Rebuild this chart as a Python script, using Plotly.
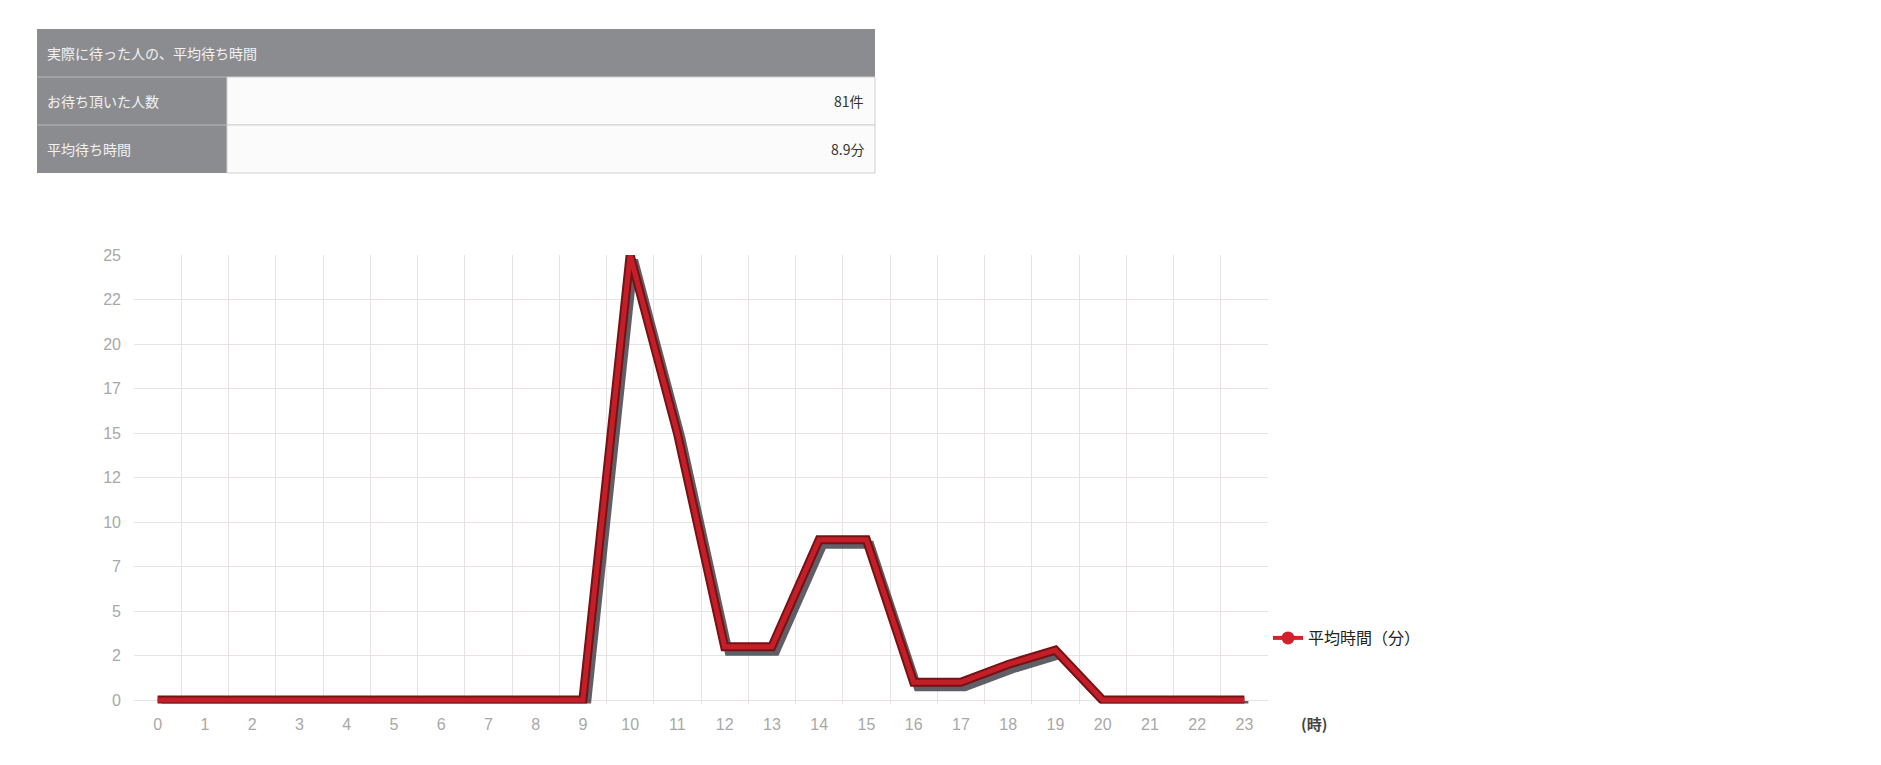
import plotly.graph_objects as go

# ---- data ----
hours = list(range(24))
avg_wait = [0, 0, 0, 0, 0, 0, 0, 0, 0, 0, 25, 15, 3, 3, 9, 9, 1, 1, 2, 2.8, 0, 0, 0, 0]
y_tickvals = [0, 2.5, 5, 7.5, 10, 12.5, 15, 17.5, 20, 22.5, 25]
y_ticktext = ["0", "2", "5", "7", "10", "12", "15", "17", "20", "22", "25"]
x_ticktext = [str(h) for h in hours]
series_name = "平均時間（分）"
x_unit = "(時)"

table_title = "実際に待った人の、平均待ち時間"
table_labels = ["お待ち頂いた人数", "平均待ち時間"]
table_values = ["81件", "8.9分"]

# ---- layout geometry (pixels) ----
W, H = 1881, 765
PL, PR, PT, PB = 134, 1268, 255, 703.6
YR = [-0.2, 25]
XR = [-0.5, 23.5]
px_x = (PR - PL) / (XR[1] - XR[0])
px_y = (PB - PT) / (YR[1] - YR[0])
shadow_dx, shadow_dy = 4 / px_x, -5 / px_y


def fx(px):
    return px / W


def fy(py):
    return 1 - py / H


fig = go.Figure()

# shadow
fig.add_trace(go.Scatter(
    x=[h + shadow_dx for h in hours], y=[v + shadow_dy for v in avg_wait],
    mode="lines", line=dict(color="rgba(55,55,65,0.8)", width=8),
    showlegend=False, hoverinfo="skip", cliponaxis=False))
# dark outline
fig.add_trace(go.Scatter(
    x=hours, y=avg_wait, mode="lines",
    line=dict(color="#761214", width=9),
    showlegend=False, hoverinfo="skip", cliponaxis=False))
# red core
fig.add_trace(go.Scatter(
    x=hours, y=avg_wait, mode="lines",
    line=dict(color="#c41f29", width=5),
    showlegend=False, name=series_name, cliponaxis=False))
# legend entry
fig.add_trace(go.Scatter(
    x=[None], y=[None], mode="lines+markers", name=series_name,
    line=dict(color="#d3222b", width=4),
    marker=dict(color="#d3222b", size=13, symbol="circle")))

# ---- summary table built from shapes and annotations ----
TL, TR, TS = 37, 875, 227   # left, right, column split
TT, ROW = 29, 48
GRAY = "#8b8c90"
shapes = []
annotations = []
shapes.append(dict(type="rect", xref="paper", yref="paper",
                   x0=fx(TL), x1=fx(TR), y0=fy(TT + ROW), y1=fy(TT),
                   fillcolor=GRAY, line=dict(width=0), layer="below"))
annotations.append(dict(text=table_title, xref="paper", yref="paper",
                        x=fx(TL + 8), y=fy(TT + ROW / 2), xanchor="left", yanchor="middle",
                        showarrow=False,
                        font=dict(family="Noto Sans CJK JP", size=14, color="#f2f2f2")))
for i, (lab, val) in enumerate(zip(table_labels, table_values)):
    top = TT + ROW * (i + 1)
    bot = top + ROW
    shapes.append(dict(type="rect", xref="paper", yref="paper",
                       x0=fx(TL), x1=fx(TS), y0=fy(bot), y1=fy(top),
                       fillcolor=GRAY, line=dict(width=0), layer="below"))
    shapes.append(dict(type="rect", xref="paper", yref="paper",
                       x0=fx(TS), x1=fx(TR), y0=fy(bot), y1=fy(top),
                       fillcolor="#fbfbfb", line=dict(color="#cfcfcf", width=1), layer="below"))
    shapes.append(dict(type="line", xref="paper", yref="paper",
                       x0=fx(TL), x1=fx(TS), y0=fy(top), y1=fy(top),
                       line=dict(color="#b9b9bc", width=1)))
    annotations.append(dict(text=lab, xref="paper", yref="paper",
                            x=fx(TL + 8), y=fy(top + ROW / 2), xanchor="left", yanchor="middle",
                            showarrow=False,
                            font=dict(family="Noto Sans CJK JP", size=14, color="#f2f2f2")))
    annotations.append(dict(text=val, xref="paper", yref="paper",
                            x=fx(TR - 9), y=fy(top + ROW / 2), xanchor="right", yanchor="middle",
                            showarrow=False,
                            font=dict(family="Noto Sans CJK JP", size=14, color="#333333")))

annotations.append(dict(
    text=x_unit, xref="paper", yref="paper",
    x=fx(1314), y=fy(723), xanchor="center", yanchor="middle",
    showarrow=False,
    font=dict(family="Noto Sans CJK JP", size=15, color="#444444", weight="bold")))

tick_font = dict(family="Liberation Sans Narrow, Liberation Sans, Arial", size=16, color="#a8a8a8")

fig.update_layout(
    width=W, height=H,
    margin=dict(l=0, r=0, t=0, b=0, autoexpand=False),
    paper_bgcolor="white", plot_bgcolor="white",
    xaxis=dict(
        domain=[fx(PL), fx(PR)], range=XR, automargin=False,
        tickmode="array", tickvals=hours, ticktext=x_ticktext,
        showgrid=False, zeroline=False, showline=False,
        ticks="", ticklabelstandoff=9, tickfont=tick_font,
        minor=dict(tick0=0.5, dtick=1, showgrid=True, gridcolor="#e7e3e3", gridwidth=1, ticks=""),
        fixedrange=True),
    yaxis=dict(
        domain=[fy(PB), fy(PT)], range=YR, automargin=False,
        tickmode="array", tickvals=y_tickvals, ticktext=y_ticktext,
        showgrid=True, gridcolor="#e7e3e3", gridwidth=1,
        zeroline=False, showline=False, ticks="", ticklabelstandoff=12,
        tickfont=tick_font, fixedrange=True),
    legend=dict(
        x=fx(1268), y=fy(638), xanchor="left", yanchor="middle",
        font=dict(family="Noto Sans CJK JP", size=16, color="#222222"),
        bgcolor="rgba(0,0,0,0)", itemwidth=30),
    showlegend=True,
    shapes=shapes,
    annotations=annotations,
)

fig.write_html(
    "out.html",
    config={"displayModeBar": False},
    post_script="document.body.style.margin='0';document.body.style.overflow='hidden';")
